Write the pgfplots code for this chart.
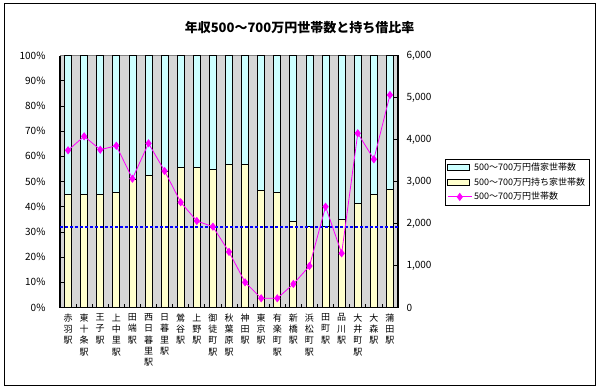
\documentclass[border=0pt]{standalone}
\usepackage{fontspec}
\setmainfont{Noto Sans CJK JP}
\usepackage{pgfplots}
\usepackage{pgfplotstable}
\pgfplotsset{compat=1.18}
\definecolor{rentc}{HTML}{CCFFFF}
\definecolor{ownc}{HTML}{FFFFCC}
\definecolor{magl}{HTML}{FF00FF}
\definecolor{bgc}{HTML}{D6D6D6}

\pgfplotstableread{
x own rent total
0 44.9 55.1 3743
1 44.9 55.1 4076
2 44.9 55.1 3757
3 45.7 54.3 3852
4 51.0 49.0 3067
5 52.5 47.5 3909
6 54.2 45.8 3250
7 55.7 44.3 2505
8 55.7 44.3 2060
9 54.9 45.1 1924
10 56.8 43.2 1325
11 56.8 43.2 600
12 46.6 53.4 219
13 45.7 54.3 219
14 34.2 65.8 560
15 32.3 67.7 988
16 32.0 68.0 2400
17 35.1 64.9 1290
18 41.3 58.7 4148
19 44.9 55.1 3529
20 47.0 53.0 5060
}\data

\pgfplotsset{mylineleg/.style={legend image code/.code={\draw[##1] (0pt,0pt) -- (24pt,0pt); \draw[##1] plot coordinates {(12pt,0pt)};}}}

\begin{document}
\begin{tikzpicture}
\draw[black, line width=1pt] (4pt,4pt) rectangle (595.5pt,385pt);
\node[font=\fontsize{13}{15}\selectfont\bfseries] at (299.5pt,361pt) {年収500～700万円世帯数と持ち借比率};

\begin{axis}[
  at={(60pt,81.5pt)}, anchor=south west, scale only axis,
  width=338pt, height=252pt,
  ybar stacked, bar width=7pt,
  xmin=-0.5, xmax=20.5, ymin=0, ymax=100,
  axis background/.style={fill=bgc},
  axis y line*=left, axis x line*=bottom,
  axis line style={-, line width=1.2pt},
  every outer x axis line/.append style={-},
  every outer y axis line/.append style={-},
  tick align=inside, major tick length=4pt,
  tick style={black, line width=0.8pt},
  ytick={0,10,...,100},
  yticklabels={0\%,10\%,20\%,30\%,40\%,50\%,60\%,70\%,80\%,90\%,100\%},
  yticklabel style={font=\fontsize{10}{12}\selectfont, xshift=-11pt},
  xtick={-0.5,0.5,...,20.5},
  xticklabels={,,},
  extra x ticks={0,1,...,20},
  extra x tick labels={{赤\\羽\\駅},{東\\十\\条\\駅},{王\\子\\駅},{上\\中\\里\\駅},{田\\端\\駅},{西\\日\\暮\\里\\駅},{日\\暮\\里\\駅},{鶯\\谷\\駅},{上\\野\\駅},{御\\徒\\町\\駅},{秋\\葉\\原\\駅},{神\\田\\駅},{東\\京\\駅},{有\\楽\\町\\駅},{新\\橋\\駅},{浜\\松\\町\\駅},{田\\町\\駅},{品\\川\\駅},{大\\井\\町\\駅},{大\\森\\駅},{蒲\\田\\駅}},
  extra x tick style={major tick length=0pt,
    xticklabel style={font=\fontsize{9}{11.3}\selectfont, align=center, anchor=north, inner sep=1pt, yshift=-5pt}},
]
\addplot[fill=ownc, draw=black, line width=0.8pt] table[x=x, y=own] {\data};
\addplot[fill=rentc, draw=black, line width=0.8pt] table[x=x, y=rent] {\data};
\draw[gray, line width=1pt] (rel axis cs:0,1) -- (rel axis cs:1,1);
\end{axis}

\begin{axis}[
  at={(60pt,81.5pt)}, anchor=south west, scale only axis,
  width=338pt, height=252pt,
  xmin=-0.5, xmax=20.5, ymin=0, ymax=6000,
  axis y line*=right, axis x line=none,
  axis line style={-, line width=1.2pt},
  every outer y axis line/.append style={-},
  tick align=inside, major tick length=4pt,
  tick style={black, line width=0.8pt},
  ytick={0,1000,...,6000},
  yticklabels={0,{1,000},{2,000},{3,000},{4,000},{5,000},{6,000}},
  yticklabel style={font=\fontsize{10}{12}\selectfont, xshift=5pt},
  legend style={at={(1.139,0.59)}, anchor=north west, draw=black, line width=0.8pt,
    font=\fontsize{9}{11}\selectfont, inner sep=2pt, row sep=1.5pt, fill=white},
  legend cell align=left,
]
\addplot[blue, line width=2pt, dash pattern=on 3pt off 2pt, forget plot] coordinates {(-0.5,1920) (20.5,1920)};
\addlegendimage{legend image code/.code={\draw[fill=rentc, draw=black, line width=0.8pt] (0pt,-3pt) rectangle (22pt,3pt);}}
\addlegendentry{500～700万円借家世帯数}
\addlegendimage{legend image code/.code={\draw[fill=ownc, draw=black, line width=0.8pt] (0pt,-3pt) rectangle (22pt,3pt);}}
\addlegendentry{500～700万円持ち家世帯数}
\addplot[magl, line width=0.8pt, mark=diamond*, mark size=3.5pt, mark options={fill=magl, draw=magl}, mylineleg]
  table[x=x, y=total] {\data};
\addlegendentry{500～700万円世帯数}
\end{axis}
\pgfresetboundingbox
\useasboundingbox (0pt,0pt) rectangle (599pt,389pt);
\end{tikzpicture}
\end{document}
